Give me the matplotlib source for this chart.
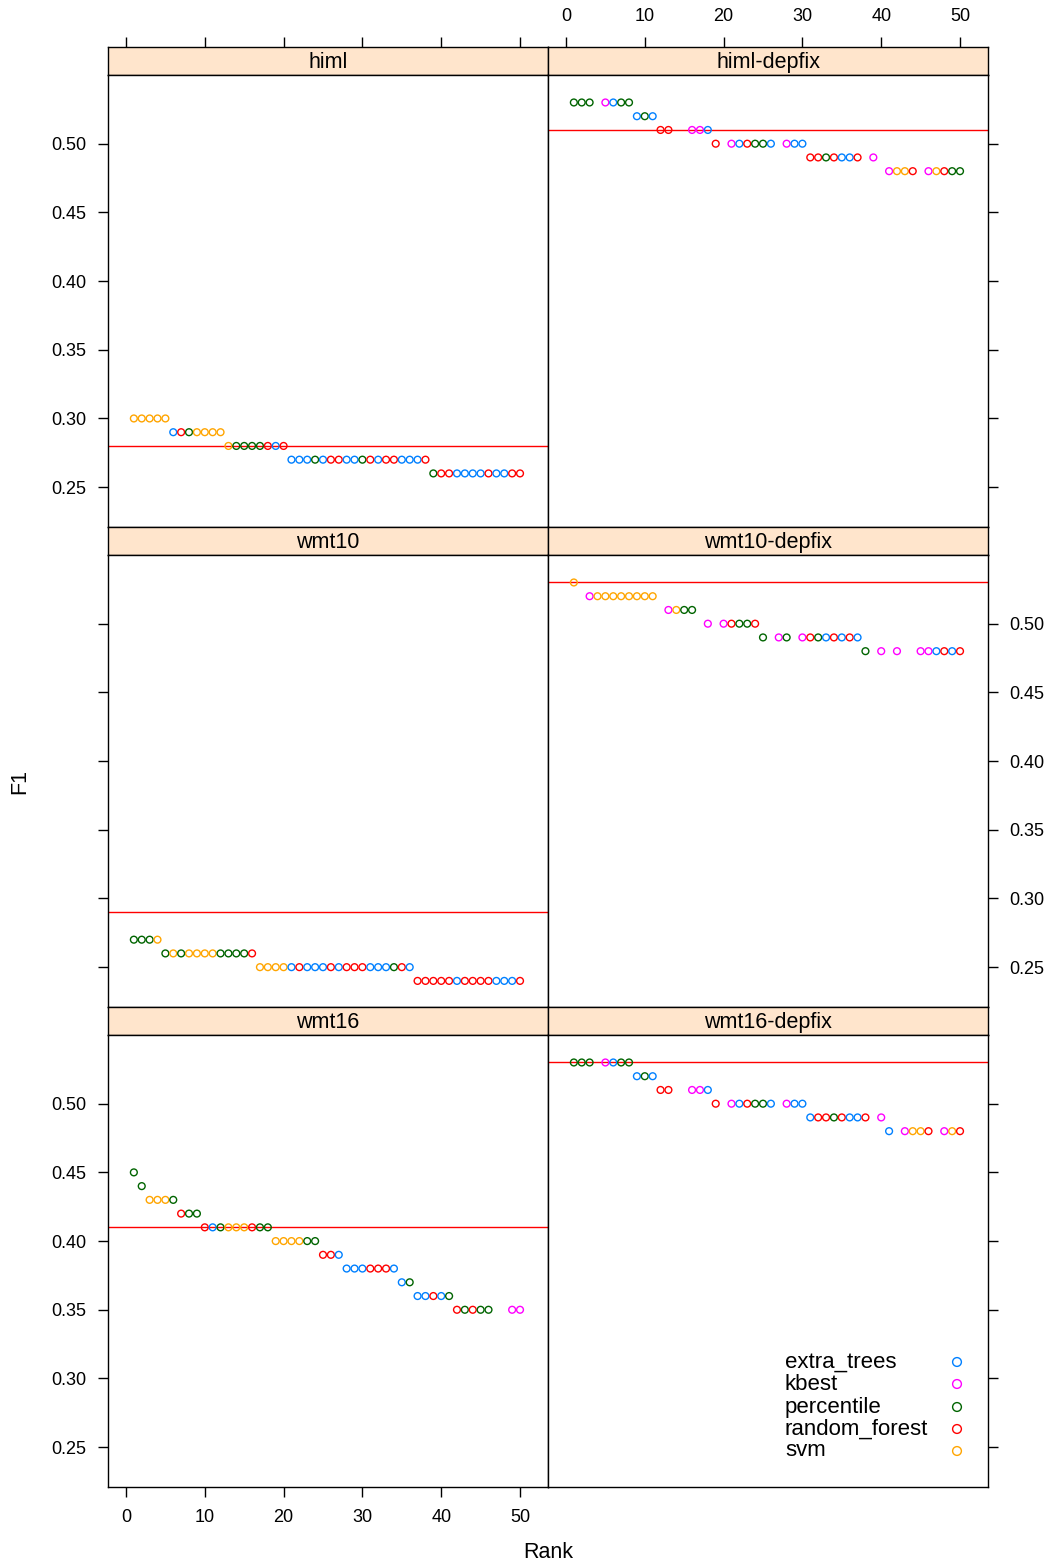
import matplotlib
matplotlib.use("Agg")
import matplotlib.pyplot as plt

plt.rcParams['font.family'] = ['Liberation Sans', 'DejaVu Sans']

N = None
ranks = list(range(1, 51))
methods = ["extra_trees", "kbest", "percentile", "random_forest", "svm"]
codes = "EKPRS"
colors = ["#0080ff", "#ff00ff", "#006400", "#ff0000", "#ffa500"]

# F1 by rank (None = no point), method code by rank ('.' = none)
himl_f1 = [0.30, 0.30, 0.30, 0.30, 0.30,
           0.29, 0.29, 0.29, 0.29, 0.29, 0.29, 0.29,
           0.28, 0.28, 0.28, 0.28, 0.28, 0.28, 0.28, 0.28,
           0.27, 0.27, 0.27, 0.27, 0.27, 0.27, 0.27, 0.27, 0.27,
           0.27, 0.27, 0.27, 0.27, 0.27, 0.27, 0.27, 0.27, 0.27,
           0.26, 0.26, 0.26, 0.26, 0.26, 0.26, 0.26, 0.26, 0.26, 0.26, 0.26, 0.26]
himl_m = "SSSSS" "ERPSSSS" "SPPPPRER" "EEEPERREEPRERREEER" "PRREEEEREERR"

himl_dep_f1 = [0.53, 0.53, 0.53, N, 0.53, 0.53, 0.53, 0.53,
               0.52, 0.52, 0.52,
               0.51, 0.51, N, N, 0.51, 0.51, 0.51,
               0.50, N, 0.50, 0.50, 0.50, 0.50, 0.50, 0.50, N, 0.50, 0.50, 0.50,
               0.49, 0.49, 0.49, 0.49, 0.49, 0.49, 0.49, N, 0.49, N,
               0.48, 0.48, 0.48, 0.48, N, 0.48, 0.48, 0.48, 0.48, 0.48]
himl_dep_m = "PPP.KEPP" "EPE" "RR..KKE" "R.KERPPE.KEE" "RRPREER.K." "KSSR.KSRPP"

wmt10_f1 = [0.27, 0.27, 0.27, 0.27,
            0.26, 0.26, 0.26, 0.26, 0.26, 0.26, 0.26, 0.26, 0.26, 0.26, 0.26, 0.26,
            0.25, 0.25, 0.25, 0.25, 0.25, 0.25, 0.25, 0.25, 0.25, 0.25,
            0.25, 0.25, 0.25, 0.25, 0.25, 0.25, 0.25, 0.25, 0.25, 0.25,
            0.24, 0.24, 0.24, 0.24, 0.24, 0.24, 0.24, 0.24, 0.24, 0.24, 0.24, 0.24, 0.24, 0.24]
wmt10_m = "PPPS" "PSPSSSSPPPPR" "SSSSEREEERERRREEEPRE" "RRRRRERRRREEER"

wmt10_dep_f1 = [0.53, N,
                0.52, 0.52, 0.52, 0.52, 0.52, 0.52, 0.52, 0.52, 0.52, N,
                0.51, 0.51, 0.51, 0.51,
                N, 0.50, N, 0.50, 0.50, 0.50, 0.50, 0.50,
                0.49, N, 0.49, 0.49, N, 0.49, 0.49, 0.49, 0.49, 0.49, 0.49, 0.49, 0.49,
                0.48, N, 0.48, N, 0.48, N, N, 0.48, 0.48, 0.48, 0.48, 0.48, 0.48]
wmt10_dep_m = "S." "KSSSSSSSS." "KSPP" ".K.KRPPR" "P.KP.KRPERERE" "P.K.K..KKERER"

wmt16_f1 = [0.45, 0.44, 0.43, 0.43, 0.43, 0.43, 0.42, 0.42, 0.42,
            0.41, 0.41, 0.41, 0.41, 0.41, 0.41, 0.41, 0.41, 0.41,
            0.40, 0.40, 0.40, 0.40, 0.40, 0.40,
            0.39, 0.39, 0.39,
            0.38, 0.38, 0.38, 0.38, 0.38, 0.38, 0.38,
            0.37, 0.37,
            0.36, 0.36, 0.36, 0.36, 0.36,
            0.35, 0.35, 0.35, 0.35, 0.35, N, N, 0.35, 0.35]
wmt16_m = "PPSSSPRPP" "REPSSSRPP" "SSSSPP" "RRE" "EEERRRE" "EP" "EEREP" "RPRPP..KK"

wmt16_dep_f1 = [0.53, 0.53, 0.53, N, 0.53, 0.53, 0.53, 0.53,
                0.52, 0.52, 0.52,
                0.51, 0.51, N, N, 0.51, 0.51, 0.51,
                0.50, N, 0.50, 0.50, 0.50, 0.50, 0.50, 0.50, N, 0.50, 0.50, 0.50,
                0.49, 0.49, 0.49, 0.49, 0.49, 0.49, 0.49, 0.49, N, 0.49,
                0.48, N, 0.48, 0.48, 0.48, 0.48, N, 0.48, 0.48, 0.48]
wmt16_dep_m = "PPP.KEPP" "EPE" "RR..KKE" "R.KERPPE.KEE" "ERRPREER.K" "E.KSSR.KSR"

panels = [
    ("himl", himl_f1, himl_m, 0.28), ("himl-depfix", himl_dep_f1, himl_dep_m, 0.51),
    ("wmt10", wmt10_f1, wmt10_m, 0.29), ("wmt10-depfix", wmt10_dep_f1, wmt10_dep_m, 0.53),
    ("wmt16", wmt16_f1, wmt16_m, 0.41), ("wmt16-depfix", wmt16_dep_f1, wmt16_dep_m, 0.53),
]
yticks = [0.25, 0.30, 0.35, 0.40, 0.45, 0.50]
xticks = [0, 10, 20, 30, 40, 50]

W, H = 1052, 1564


def box(x0, y0, x1, y1):
    return [x0 / W, 1 - y1 / H, (x1 - x0) / W, (y1 - y0) / H]


fig = plt.figure(figsize=(W / 100, H / 100), dpi=100)
cols = [(108, 548), (548, 988)]
rows = [(47, 75, 527), (527, 555, 1007), (1007, 1035, 1487)]
xlim = (-2.28, 53.55)
ylim = (0.221, 0.550)
tick_kw = dict(direction="out", length=7.5, width=1, pad=8, labelsize=13)

for i, (name, f1, meth, ref) in enumerate(panels):
    r, c = divmod(i, 2)
    x0, x1 = cols[c]
    st, pt, pb = rows[r]

    # strip
    s = fig.add_axes(box(x0, st, x1, pt))
    s.set_facecolor("#ffe5cc")
    s.set_xlim(xlim)
    s.set_ylim(0, 1)
    s.set_yticks([])
    s.text(0.5, 0.45, name, transform=s.transAxes, ha="center", va="center", fontsize=15.5)
    if r == 0:
        s.xaxis.tick_top()
        s.set_xticks(xticks)
        s.tick_params(axis="x", labeltop=(c == 1), **tick_kw)
    else:
        s.set_xticks([])

    ax = fig.add_axes(box(x0, pt, x1, pb))
    ax.set_xlim(xlim)
    ax.set_ylim(ylim)
    for sp in list(ax.spines.values()) + list(s.spines.values()):
        sp.set_linewidth(1.0)

    xs = [rk for rk, v in zip(ranks, f1) if v is not None]
    ys = [v for v in f1 if v is not None]
    cs = [colors[codes.index(m)] for m in meth if m != "."]
    ax.axhline(ref, color="red", lw=1.0, zorder=1)
    ax.scatter(xs, ys, s=24, facecolors="none", edgecolors=cs, linewidths=1.0, zorder=2)

    ax.set_yticks(yticks)
    ax.set_yticklabels(["%.2f" % t for t in yticks])
    if c == 0:
        ax.tick_params(axis="y", left=True, right=False, labelleft=(r != 1), **tick_kw)
    else:
        ax.yaxis.tick_right()
        ax.tick_params(axis="y", left=False, right=True, labelright=(r == 1), **tick_kw)

    if r == 2 and c == 0:
        ax.set_xticks(xticks)
        ax.tick_params(axis="x", **tick_kw)
    else:
        ax.set_xticks([])

    if r == 2 and c == 1:
        # key
        for j, m in enumerate(methods):
            yk = [1362, 1384, 1407, 1429, 1451][j]
            fig.text(785 / W, 1 - yk / H, m, fontsize=16, va="center", ha="left")
            ax.scatter([(957 - x0) / (x1 - x0)], [(pb - yk) / (pb - pt)], s=40,
                       facecolors="none", edgecolors=colors[j], linewidths=1.0,
                       transform=ax.transAxes, clip_on=False)

fig.text(548 / W, 1 - 1553 / H, "Rank", ha="center", va="center", fontsize=15.5)
fig.text(20 / W, 1 - 781 / H, "F1", ha="center", va="center", rotation=90, fontsize=15.5)

fig.savefig("out.png", dpi=100)
